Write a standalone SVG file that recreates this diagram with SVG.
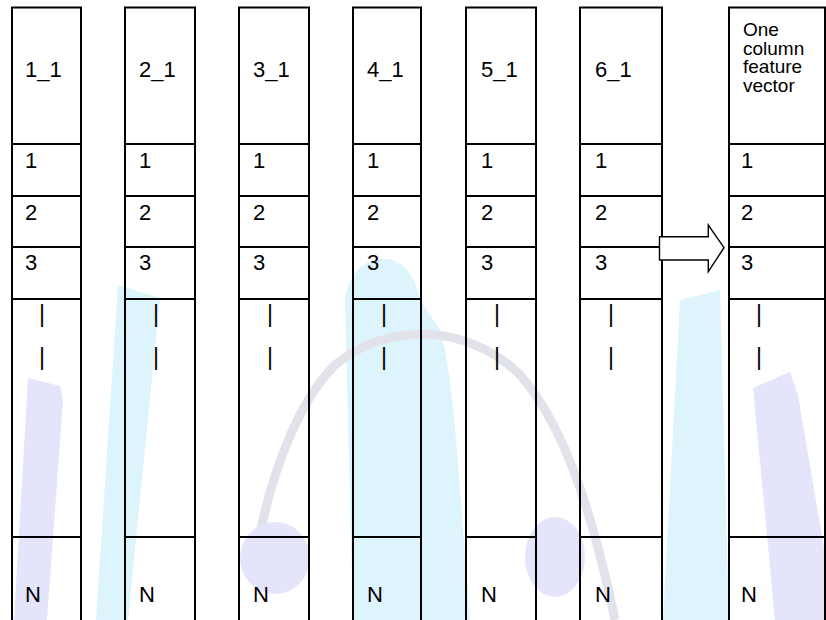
<svg xmlns="http://www.w3.org/2000/svg" width="826" height="620" viewBox="0 0 826 620">
<style>
.col{fill:none;stroke:#000;stroke-width:2}
.row{stroke:#000;stroke-width:2}
text{font-family:"Liberation Sans",Arial,sans-serif;font-size:22px;fill:#000}
.hd{font-size:19px}
.bar{font-size:23px}
.wm-c{fill:#def4fc}
.wm-p{fill:#e4e4fb}
.wm-g{fill:none;stroke:#e2e2ea;stroke-width:9}
</style>
<rect width="826" height="620" fill="#fff"/>
<g id="watermark">
  <polygon class="wm-p" points="28,378 60,386 63,400 47,620 14,620"/>
  <polygon class="wm-c" points="118,285 160,298 128,620 96,620"/>
  <path class="wm-c" d="M345,300 C350,250 410,240 420,300 L440,330 C455,380 460,500 470,620 L353,620 Z"/>
  <path class="wm-g" d="M255,560 C270,470 300,400 335,365 C390,320 470,325 520,375 C560,420 590,500 615,620"/>
  <ellipse class="wm-p" cx="275" cy="558" rx="35" ry="36"/>
  <ellipse class="wm-p" cx="555" cy="557" rx="30" ry="40"/>
  <polygon class="wm-c" points="680,300 720,290 729,620 663,620"/>
  <polygon class="wm-p" points="753,388 790,372 798,395 826,560 826,620 775,620"/>
</g>
<g id="col1">
  <rect class="col" x="12" y="7.5" width="69" height="616"/>
  <path class="row" d="M12,144H81M12,196H81M12,247H81M12,299H81M12,537H81"/>
  <text x="25" y="77">1_1</text>
  <text x="25" y="168">1</text><text x="25" y="220">2</text><text x="25" y="270">3</text>
  <text class="bar" x="39" y="322">|</text><text class="bar" x="39" y="365">|</text>
  <text x="25" y="602">N</text>
</g>
<g id="col2">
  <rect class="col" x="125" y="7.5" width="70" height="616"/>
  <path class="row" d="M125,144H195M125,196H195M125,247H195M125,299H195M125,537H195"/>
  <text x="139" y="77">2_1</text>
  <text x="139" y="168">1</text><text x="139" y="220">2</text><text x="139" y="270">3</text>
  <text class="bar" x="153" y="322">|</text><text class="bar" x="153" y="365">|</text>
  <text x="139" y="602">N</text>
</g>
<g id="col3">
  <rect class="col" x="239" y="7.5" width="70" height="616"/>
  <path class="row" d="M239,144H309M239,196H309M239,247H309M239,299H309M239,537H309"/>
  <text x="253" y="77">3_1</text>
  <text x="253" y="168">1</text><text x="253" y="220">2</text><text x="253" y="270">3</text>
  <text class="bar" x="267" y="322">|</text><text class="bar" x="267" y="365">|</text>
  <text x="253" y="602">N</text>
</g>
<g id="col4">
  <rect class="col" x="353" y="7.5" width="68" height="616"/>
  <path class="row" d="M353,144H421M353,196H421M353,247H421M353,299H421M353,537H421"/>
  <text x="367" y="77">4_1</text>
  <text x="367" y="168">1</text><text x="367" y="220">2</text><text x="367" y="270">3</text>
  <text class="bar" x="381" y="322">|</text><text class="bar" x="381" y="365">|</text>
  <text x="367" y="602">N</text>
</g>
<g id="col5">
  <rect class="col" x="466" y="7.5" width="70" height="616"/>
  <path class="row" d="M466,144H536M466,196H536M466,247H536M466,299H536M466,537H536"/>
  <text x="481" y="77">5_1</text>
  <text x="481" y="168">1</text><text x="481" y="220">2</text><text x="481" y="270">3</text>
  <text class="bar" x="494" y="322">|</text><text class="bar" x="494" y="365">|</text>
  <text x="481" y="602">N</text>
</g>
<g id="col6">
  <rect class="col" x="580" y="7.5" width="82" height="616"/>
  <path class="row" d="M580,144H662M580,196H662M580,247H662M580,299H662M580,537H662"/>
  <text x="595" y="77">6_1</text>
  <text x="595" y="168">1</text><text x="595" y="220">2</text><text x="595" y="270">3</text>
  <text class="bar" x="608" y="322">|</text><text class="bar" x="608" y="365">|</text>
  <text x="595" y="602">N</text>
</g>
<g id="col7">
  <rect class="col" x="729" y="7.5" width="96" height="616"/>
  <path class="row" d="M729,144H825M729,196H825M729,247H825M729,299H825M729,537H825"/>
  <text class="hd" x="743" y="36">One</text>
  <text class="hd" x="743" y="54.5">column</text>
  <text class="hd" x="743" y="73">feature</text>
  <text class="hd" x="743" y="91.5">vector</text>
  <text x="741" y="168">1</text><text x="741" y="220">2</text><text x="741" y="270">3</text>
  <text class="bar" x="756" y="322">|</text><text class="bar" x="756" y="365">|</text>
  <text x="741" y="602">N</text>
</g>
<g id="connectors">
  <polygon points="659.5,236.7 708.3,236.7 708.3,225 724,247.7 708.3,271.7 708.3,260 659.5,260" fill="#fff" stroke="#000" stroke-width="1.4"/>
</g>
</svg>
